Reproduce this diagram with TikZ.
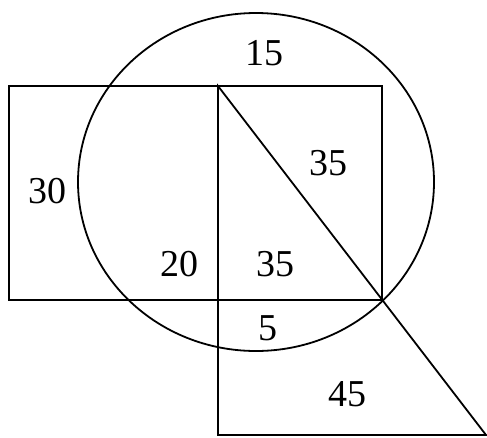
\documentclass[tikz,border=0pt]{standalone}
\usepackage{fontspec}
\setmainfont{Liberation Serif}
\begin{document}
\begin{tikzpicture}[x=1pt,y=-1pt,
  shape line/.style={line width=1.8pt,black},
  numlabel/.style={font=\fontsize{38}{42}\selectfont,inner sep=0pt}]
\useasboundingbox (0,0) rectangle (487,437);
% corner points
\coordinate (rtl) at (9,86);
\coordinate (rbr) at (382,300);
\coordinate (top) at (218,86);
\coordinate (bot) at (218,435);
\coordinate (tri) at (486,435);
\coordinate (cc) at (256,182);
% shapes
\draw[shape line] (rtl) rectangle (rbr);
\draw[shape line] (cc) ellipse [x radius=178, y radius=169];
\draw[shape line] (top) -- (bot) -- (tri) -- cycle;
% labels
\node[numlabel] (n15) at (264,53) {15};
\node[numlabel] (n35a) at (328,163) {35};
\node[numlabel] (n30) at (47,191) {30};
\node[numlabel] (n20) at (179,264) {20};
\node[numlabel] (n35b) at (275,264) {35};
\node[numlabel] (n5) at (268,328) {5};
\node[numlabel] (n45) at (347,394) {45};
\end{tikzpicture}
\end{document}
